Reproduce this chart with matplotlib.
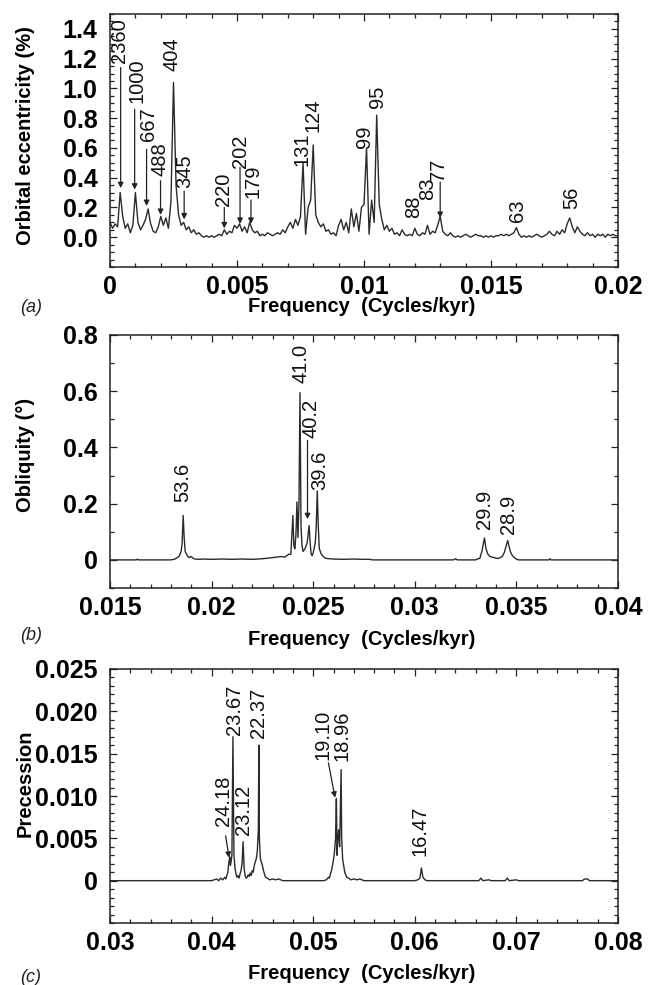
import matplotlib
matplotlib.use("Agg")
import matplotlib.pyplot as plt
from matplotlib.ticker import MultipleLocator

# ---------------- data ----------------
# (a) orbital eccentricity spectrum
ecc_freq = [
    0.0000, 0.0001, 0.0002, 0.0003, 0.0004, 0.0005, 0.0006, 0.0007, 0.0008, 0.0009,
    0.0010, 0.0011, 0.0012, 0.0013, 0.0014, 0.0015, 0.0016, 0.0017, 0.0018, 0.0019,
    0.0020, 0.0021, 0.0022, 0.0023, 0.0024, 0.0025, 0.0026, 0.0027, 0.0028, 0.0029,
    0.0030, 0.0031, 0.0032, 0.0033, 0.0034, 0.0035, 0.0036, 0.0037, 0.0038, 0.0039,
    0.0040, 0.0041, 0.0042, 0.0043, 0.0044, 0.0045, 0.0046, 0.0047, 0.0048, 0.0049,
    0.0050, 0.0051, 0.0052, 0.0053, 0.0054, 0.0055, 0.0056, 0.0057, 0.0058, 0.0059,
    0.0060, 0.0061, 0.0062, 0.0063, 0.0064, 0.0065, 0.0066, 0.0067, 0.0068, 0.0069,
    0.0070, 0.0071, 0.0072, 0.0073, 0.0074, 0.0075, 0.0076, 0.0077, 0.0078, 0.0079,
    0.0080, 0.0081, 0.0082, 0.0083, 0.0084, 0.0085, 0.0086, 0.0087, 0.0088, 0.0089,
    0.0090, 0.0091, 0.0092, 0.0093, 0.0094, 0.0095, 0.0096, 0.0097, 0.0098, 0.0099,
    0.0100, 0.0101, 0.0102, 0.0103, 0.0104, 0.0105, 0.0106, 0.0107, 0.0108, 0.0109,
    0.0110, 0.0111, 0.0112, 0.0113, 0.0114, 0.0115, 0.0116, 0.0117, 0.0118, 0.0119,
    0.0120, 0.0121, 0.0122, 0.0123, 0.0124, 0.0125, 0.0126, 0.0127, 0.0128, 0.0129,
    0.0130, 0.0131, 0.0132, 0.0133, 0.0134, 0.0135, 0.0136, 0.0137, 0.0138, 0.0139,
    0.0140, 0.0141, 0.0142, 0.0143, 0.0144, 0.0145, 0.0146, 0.0147, 0.0148, 0.0149,
    0.0150, 0.0151, 0.0152, 0.0153, 0.0154, 0.0155, 0.0156, 0.0157, 0.0158, 0.0159,
    0.0160, 0.0161, 0.0162, 0.0163, 0.0164, 0.0165, 0.0166, 0.0167, 0.0168, 0.0169,
    0.0170, 0.0171, 0.0172, 0.0173, 0.0174, 0.0175, 0.0176, 0.0177, 0.0178, 0.0179,
    0.0180, 0.0181, 0.0182, 0.0183, 0.0184, 0.0185, 0.0186, 0.0187, 0.0188, 0.0189,
    0.0190, 0.0191, 0.0192, 0.0193, 0.0194, 0.0195, 0.0196, 0.0197, 0.0198, 0.0199,
    0.0200,
]
ecc_amp = [
    0.10, 0.06, 0.09, 0.07, 0.30, 0.14, 0.06, 0.09, 0.03, 0.08,
    0.30, 0.10, 0.05, 0.08, 0.12, 0.19, 0.09, 0.04, 0.03, 0.07,
    0.14, 0.08, 0.13, 0.06, 0.24, 1.04, 0.35, 0.15, 0.08, 0.10,
    0.05, 0.07, 0.03, 0.05, 0.02, 0.03, 0.01, 0.00, 0.01, 0.00,
    0.01, 0.00, 0.01, 0.02, 0.01, 0.05, 0.02, 0.04, 0.03, 0.08,
    0.06, 0.09, 0.04, 0.07, 0.03, 0.10, 0.05, 0.03, 0.04, 0.01,
    0.02, 0.01, 0.03, 0.02, 0.01, 0.02, 0.03, 0.02, 0.05, 0.03,
    0.07, 0.10, 0.06, 0.12, 0.08, 0.14, 0.50, 0.02, 0.20, 0.25,
    0.62, 0.15, 0.10, 0.07, 0.09, 0.04, 0.05, 0.02, 0.03, 0.01,
    0.08, 0.12, 0.05, 0.10, 0.03, 0.19, 0.07, 0.16, 0.04, 0.20,
    0.22, 0.60, 0.02, 0.25, 0.10, 0.82, 0.22, 0.12, 0.05, 0.08,
    0.04, 0.06, 0.02, 0.03, 0.01, 0.05, 0.02, 0.01, 0.02, 0.01,
    0.06, 0.02, 0.01, 0.03, 0.02, 0.08, 0.02, 0.04, 0.03, 0.08,
    0.14, 0.04, 0.02, 0.01, 0.03, 0.01, 0.00, 0.01, 0.00, 0.01,
    0.02, 0.01, 0.00, 0.01, 0.02, 0.01, 0.01, 0.00, 0.01, 0.00,
    0.01, 0.00, 0.01, 0.01, 0.02, 0.01, 0.02, 0.01, 0.02, 0.03,
    0.065, 0.02, 0.00, 0.01, 0.00, 0.01, 0.00, 0.01, 0.02, 0.01,
    0.00, 0.01, 0.02, 0.04, 0.02, 0.01, 0.04, 0.02, 0.05, 0.03,
    0.09, 0.13, 0.07, 0.03, 0.07, 0.04, 0.02, 0.01, 0.03, 0.01,
    0.02, 0.00, 0.02, 0.01, 0.02, 0.00, 0.02, 0.01, 0.02, 0.01,
    0.01,
]

# (b) obliquity spectrum
obl_freq = [
    0.0150, 0.0163, 0.01635, 0.0164, 0.0180, 0.0182, 0.0183, 0.0184, 0.0185, 0.01855,
    0.0186, 0.01865, 0.0187, 0.0188, 0.0189, 0.0190, 0.0191, 0.0192, 0.0194, 0.0196,
    0.0200, 0.0205, 0.0210, 0.0215, 0.0220, 0.0225, 0.0230, 0.0232, 0.0234, 0.0236,
    0.0237, 0.0238, 0.0239, 0.0240, 0.02405, 0.0241, 0.02415, 0.0242, 0.02425, 0.0243,
    0.02435, 0.0244, 0.02445, 0.0245, 0.0246, 0.0247, 0.0248, 0.02485, 0.0249, 0.02495,
    0.0250, 0.0251, 0.02515, 0.0252, 0.02525, 0.0253, 0.0254, 0.0255, 0.0256, 0.0258,
    0.0260, 0.0265, 0.0270, 0.0275, 0.0278, 0.0279, 0.0319, 0.0320, 0.0321, 0.0330,
    0.0331, 0.0332, 0.0333, 0.03343, 0.0335, 0.0336, 0.0337, 0.0338, 0.0339, 0.0340,
    0.0341, 0.0342, 0.0343, 0.0344, 0.03457, 0.0347, 0.0348, 0.0349, 0.0350, 0.0351,
    0.0366, 0.03665, 0.0367, 0.0400,
]
obl_amp = [
    0.000, 0.000, 0.003, 0.000, 0.000, 0.003, 0.008, 0.012, 0.030, 0.060,
    0.158, 0.080, 0.030, 0.015, 0.008, 0.012, 0.005, 0.003, 0.002, 0.003,
    0.002, 0.003, 0.002, 0.003, 0.002, 0.004, 0.008, 0.010, 0.012, 0.010,
    0.015, 0.020, 0.020, 0.158, 0.050, 0.040, 0.090, 0.206, 0.080, 0.200,
    0.595, 0.120, 0.050, 0.030, 0.040, 0.060, 0.122, 0.060, 0.020, 0.015,
    0.025, 0.060, 0.120, 0.245, 0.120, 0.040, 0.020, 0.012, 0.006, 0.004,
    0.003, 0.002, 0.003, 0.002, 0.002, 0.000, 0.000, 0.004, 0.000, 0.000,
    0.004, 0.005, 0.030, 0.078, 0.040, 0.020, 0.012, 0.010, 0.008, 0.006,
    0.005, 0.008, 0.012, 0.025, 0.069, 0.030, 0.015, 0.008, 0.003, 0.000,
    0.000, 0.004, 0.000, 0.000,
]

# (c) precession spectrum
pre_freq = [
    0.0300, 0.0400, 0.0405, 0.0407, 0.0409, 0.0411, 0.0413, 0.0414, 0.0415, 0.0416,
    0.0417, 0.0418, 0.04185, 0.0419, 0.0420, 0.0421, 0.0422, 0.0423, 0.0424, 0.0425,
    0.0426, 0.0427, 0.0428, 0.0429, 0.0430, 0.0431, 0.0432, 0.0433, 0.0434, 0.0435,
    0.0436, 0.0437, 0.0438, 0.0439, 0.0440, 0.0441, 0.0442, 0.0443, 0.0444, 0.0445,
    0.0446, 0.04465, 0.0447, 0.0448, 0.0449, 0.0450, 0.0451, 0.0452, 0.0453, 0.0455,
    0.0457, 0.0460, 0.0463, 0.0466, 0.0470, 0.0510, 0.0513, 0.0515, 0.0516, 0.0517,
    0.0518, 0.0519, 0.0520, 0.0521, 0.0522, 0.05228, 0.05235, 0.0524, 0.0525, 0.0526,
    0.05275, 0.0528, 0.0529, 0.0530, 0.0531, 0.0532, 0.0533, 0.0535, 0.0537, 0.0540,
    0.0543, 0.0546, 0.0550, 0.0600, 0.0603, 0.0605, 0.06065, 0.0608, 0.0610, 0.0612,
    0.0663, 0.0665, 0.0667, 0.0673, 0.0675, 0.0689, 0.0691, 0.0693, 0.0700, 0.0702,
    0.0765, 0.0767, 0.0770, 0.0772, 0.0800,
]
pre_amp = [
    0.0000, 0.0000, 0.0002, 0.0000, 0.0003, 0.0001, 0.0004, 0.0002, 0.0006, 0.0010,
    0.0022, 0.0028, 0.0018, 0.0021, 0.0030, 0.0170, 0.0030, 0.0015, 0.0008, 0.0004,
    0.0006, 0.0003, 0.0008, 0.0012, 0.0020, 0.0046, 0.0015, 0.0006, 0.0003, 0.0004,
    0.0007, 0.0005, 0.0009, 0.0006, 0.0012, 0.0010, 0.0018, 0.0022, 0.0026, 0.0035,
    0.0060, 0.0160, 0.0050, 0.0026, 0.0022, 0.0018, 0.0012, 0.0008, 0.0004, 0.0003,
    0.0001, 0.0002, 0.0001, 0.0002, 0.0000, 0.0000, 0.0001, 0.0004, 0.0003, 0.0008,
    0.0012, 0.0018, 0.0025, 0.0035, 0.0050, 0.0097, 0.0030, 0.0045, 0.0060, 0.0040,
    0.0131, 0.0050, 0.0025, 0.0018, 0.0010, 0.0007, 0.0004, 0.0003, 0.0001, 0.0002,
    0.0001, 0.0002, 0.0000, 0.0000, 0.0001, 0.0003, 0.0015, 0.0004, 0.0001, 0.0000,
    0.0000, 0.0003, 0.0000, 0.0001, 0.0000, 0.0000, 0.0003, 0.0000, 0.0001, 0.0000,
    0.0000, 0.0002, 0.0002, 0.0000, 0.0000,
]

# peak period labels (kyr)
ecc_labels = ["2360", "1000", "667", "488", "404", "345", "220", "202", "179",
              "131", "124", "99", "95", "88", "83", "77", "63", "56"]
obl_labels = ["53.6", "41.0", "40.2", "39.6", "29.9", "28.9"]
pre_labels = ["24.18", "23.67", "23.12", "22.37", "19.10", "18.96", "16.47"]

# tick labels
ecc_xticklabels = ["0", "0.005", "0.01", "0.015", "0.02"]
ecc_yticklabels = ["0.0", "0.2", "0.4", "0.6", "0.8", "1.0", "1.2", "1.4"]
obl_xticklabels = ["0.015", "0.02", "0.025", "0.03", "0.035", "0.04"]
obl_yticklabels = ["0", "0.2", "0.4", "0.6", "0.8"]
pre_xticklabels = ["0.03", "0.04", "0.05", "0.06", "0.07", "0.08"]
pre_yticklabels = ["0", "0.005", "0.010", "0.015", "0.020", "0.025"]

# ---------------- annotation placement (data coords) ----------------
# label: (x, bottom-of-text y); arrow: (x0, y0, x1, y1) or None
ecc_label_pos = [(0.00036, 1.17), (0.00105, 0.90), (0.00152, 0.645), (0.00197, 0.41),
                 (0.00246, 1.12), (0.00296, 0.33), (0.00446, 0.21), (0.00515, 0.465),
                 (0.00562, 0.265), (0.00755, 0.48), (0.00800, 0.71), (0.01002, 0.60),
                 (0.01054, 0.87), (0.01196, 0.13), (0.01250, 0.25), (0.01294, 0.375),
                 (0.01603, 0.10), (0.01817, 0.19)]
ecc_arrows = [(0.00042, 1.14, 0.00042, 0.33), (0.00097, 0.86, 0.00097, 0.32),
              (0.00144, 0.59, 0.00144, 0.21), (0.00199, 0.38, 0.00199, 0.15),
              None, (0.00292, 0.31, 0.00292, 0.12), (0.00450, 0.20, 0.00450, 0.06),
              (0.00512, 0.47, 0.00512, 0.09), (0.00555, 0.25, 0.00555, 0.09),
              None, None, None, None, None, None,
              (0.01300, 0.37, 0.01300, 0.13), None, None]
obl_label_pos = [(0.01859, 0.205), (0.02440, 0.630), (0.02490, 0.432),
                 (0.02533, 0.250), (0.03343, 0.110), (0.03459, 0.093)]
obl_arrows = [None, None, (0.02472, 0.425, 0.02472, 0.145), None, None, None]
pre_label_pos = [(0.04115, 0.0064), (0.04228, 0.0172), (0.04312, 0.0054),
                 (0.04460, 0.0168), (0.05100, 0.0143), (0.05280, 0.0141),
                 (0.06050, 0.0029)]
pre_arrows = [(0.04138, 0.0053, 0.04172, 0.0027), None, None, None,
              (0.05150, 0.0139, 0.05215, 0.0098), None, None]

# ---------------- styling ----------------
FAM = ["Liberation Sans", "DejaVu Sans"]
plt.rcParams["font.family"] = FAM
LINE_C = "#2b2b2b"
TICK_FS = 18
LAB_FS = 14.5
PEAK_FS = 14.5

fig = plt.figure(figsize=(6.51, 9.85), dpi=100)
W, H = 651.0, 985.0
left, right = 110, 618
panels = [(14, 267), (335, 588), (669, 923)]


def make_ax(top, bottom):
    return fig.add_axes([left / W, 1 - bottom / H, (right - left) / W, (bottom - top) / H])


def style(ax, xlim, ylim, xmaj, xmin, ymaj_vals, ymin, xlabels, ylabels):
    ax.set_xlim(*xlim)
    ax.set_ylim(*ylim)
    ax.xaxis.set_major_locator(MultipleLocator(xmaj))
    ax.xaxis.set_minor_locator(MultipleLocator(xmin))
    ax.yaxis.set_minor_locator(MultipleLocator(ymin))
    ax.set_yticks(ymaj_vals)
    ax.set_yticklabels(ylabels)
    xt = [xlim[0] + i * xmaj for i in range(len(xlabels))]
    ax.set_xticks(xt)
    ax.set_xticklabels(xlabels)
    ax.tick_params(which="both", direction="in", top=True, right=True, width=0.9, color="#222222")
    ax.tick_params(which="major", length=5)
    ax.tick_params(which="minor", length=2.8)
    ax.tick_params(axis="x", which="major", pad=6)
    ax.tick_params(axis="y", which="major", pad=9)
    for lab in ax.get_xticklabels() + ax.get_yticklabels():
        lab.set_fontsize(TICK_FS)
        lab.set_fontweight("bold")
        lab.set_family(FAM)
    for s in ax.spines.values():
        s.set_linewidth(1.1)
        s.set_color("#222222")


def annotate(ax, labels, pos, arrows):
    for t, (x, y), arr in zip(labels, pos, arrows):
        ax.text(x, y, t, rotation=90, ha="center", va="bottom", fontsize=PEAK_FS,
                color="#111111", family=FAM)
        if arr is not None:
            x0, y0, x1, y1 = arr
            ax.annotate("", xy=(x1, y1), xytext=(x0, y0),
                        arrowprops=dict(arrowstyle="-|>", color="#222222", lw=0.9,
                                        mutation_scale=8, shrinkA=0, shrinkB=0))


# (a)
ax1 = make_ax(*panels[0])
ax1.plot(ecc_freq, ecc_amp, color=LINE_C, lw=1.0)
style(ax1, (0, 0.02), (-0.2, 1.5), 0.005, 0.001,
      [0.0, 0.2, 0.4, 0.6, 0.8, 1.0, 1.2, 1.4], 0.05, ecc_xticklabels, ecc_yticklabels)
annotate(ax1, ecc_labels, ecc_label_pos, ecc_arrows)
ax1.set_ylabel("Orbital eccentricity (%)", fontsize=LAB_FS, fontweight="bold")
ax1.yaxis.set_label_coords(-0.167, 0.52)
ax1.set_xlabel("Frequency  (Cycles/kyr)", fontsize=LAB_FS, fontweight="bold")
ax1.xaxis.set_label_coords(0.496, -0.158)
ax1.xaxis.label.set_va("center")
ax1.yaxis.label.set_va("center")

# (b)
ax2 = make_ax(*panels[1])
ax2.plot(obl_freq, obl_amp, color=LINE_C, lw=1.0)
style(ax2, (0.015, 0.04), (-0.1, 0.8), 0.005, 0.001,
      [0, 0.2, 0.4, 0.6, 0.8], 0.1, obl_xticklabels, obl_yticklabels)
annotate(ax2, obl_labels, obl_label_pos, obl_arrows)
ax2.set_ylabel("Obliquity (\u00b0)", fontsize=LAB_FS, fontweight="bold")
ax2.yaxis.set_label_coords(-0.167, 0.526)
ax2.set_xlabel("Frequency  (Cycles/kyr)", fontsize=LAB_FS, fontweight="bold")
ax2.xaxis.set_label_coords(0.496, -0.205)
ax2.xaxis.label.set_va("center")
ax2.yaxis.label.set_va("center")

# (c)
ax3 = make_ax(*panels[2])
ax3.plot(pre_freq, pre_amp, color=LINE_C, lw=1.0)
style(ax3, (0.03, 0.08), (-0.005, 0.025), 0.01, 0.002,
      [0, 0.005, 0.010, 0.015, 0.020, 0.025], 0.001, pre_xticklabels, pre_yticklabels)
annotate(ax3, pre_labels, pre_label_pos, pre_arrows)
ax3.set_ylabel("Precession", fontsize=LAB_FS, fontweight="bold")
ax3.yaxis.set_label_coords(-0.167, 0.551)
ax3.set_xlabel("Frequency  (Cycles/kyr)", fontsize=LAB_FS, fontweight="bold")
ax3.xaxis.set_label_coords(0.496, -0.20)
ax3.xaxis.label.set_va("center")
ax3.yaxis.label.set_va("center")

# panel letters
for txt, ypix in [("(a)", 307), ("(b)", 636), ("(c)", 977)]:
    fig.text(31 / W, 1 - ypix / H, txt, fontsize=13, fontstyle="italic",
             ha="center", va="center", color="#222222", family=FAM)

fig.savefig("out.png", dpi=100)
